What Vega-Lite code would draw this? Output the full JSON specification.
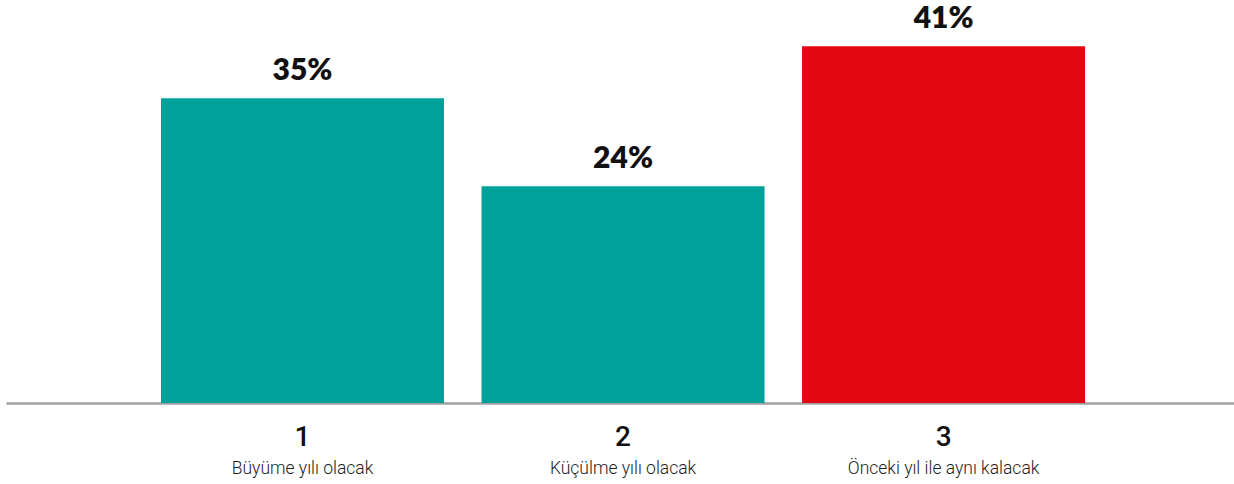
{
  "$schema": "https://vega.github.io/schema/vega-lite/v6.json",
  "width": 1228,
  "height": 403,
  "autosize": {"type": "none"},
  "padding": {"left": 6, "top": 0, "right": 0, "bottom": 81},
  "background": "white",
  "config": {"view": {"stroke": null}},
  "data": {
    "values": [
      {"num": "1", "desc": "Büyüme yılı olacak", "value": 35.0, "label": "35%", "grp": "a"},
      {"num": "2", "desc": "Küçülme yılı olacak", "value": 24.9, "label": "24%", "grp": "a"},
      {"num": "3", "desc": "Önceki yıl ile aynı kalacak", "value": 41.0, "label": "41%", "grp": "b"}
    ]
  },
  "encoding": {
    "x": {
      "field": "num", "type": "nominal", "sort": null,
      "scale": {"paddingInner": 0.117, "paddingOuter": 0.474, "align": 0.51},
      "axis": {
        "title": null, "labelAngle": 0, "ticks": false,
        "domainColor": "#a0a0a0", "domainWidth": 2.5,
        "labelFont": "Roboto", "labelFontSize": 28, "labelFontWeight": 500,
        "labelColor": "#111111", "labelPadding": 20
      }
    }
  },
  "layer": [
    {
      "mark": {"type": "bar"},
      "encoding": {
        "y": {"field": "value", "type": "quantitative", "scale": {"domain": [0, 46.3], "nice": false, "zero": true}, "axis": null},
        "color": {"field": "grp", "type": "nominal", "scale": {"domain": ["a", "b"], "range": ["#00A19A", "#E30613"]}, "legend": null}
      }
    },
    {
      "mark": {"type": "text", "baseline": "alphabetic", "dy": -18, "font": "Lato", "fontSize": 30, "fontWeight": 800, "color": "#111111"},
      "encoding": {
        "y": {"field": "value", "type": "quantitative"},
        "text": {"field": "label"}
      }
    },
    {
      "mark": {"type": "text", "baseline": "middle", "dy": 66, "font": "Roboto", "fontSize": 17.5, "fontWeight": 300, "color": "#222222"},
      "encoding": {
        "y": {"datum": 0, "type": "quantitative"},
        "text": {"field": "desc"}
      }
    }
  ]
}
